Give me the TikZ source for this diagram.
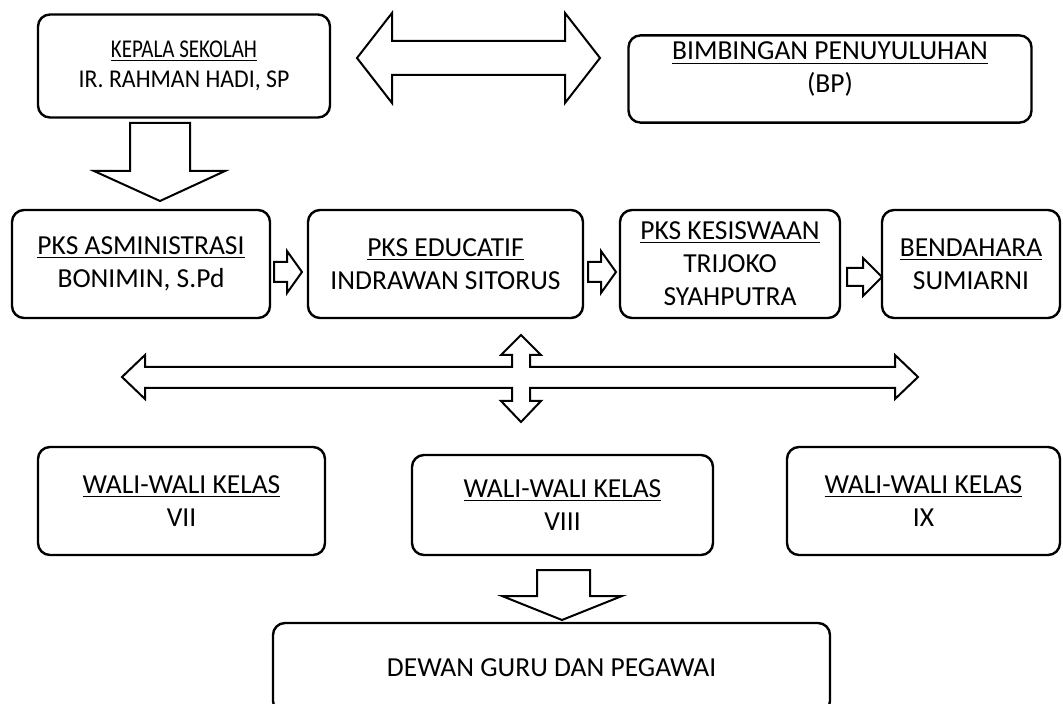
\documentclass[tikz,border=0pt]{standalone}
\usepackage{fontspec}
\usepackage{graphicx}
\setmainfont{Carlito}
\tikzset{
    box/.style={draw, rounded corners=6pt, line width=1.2pt, align=center,
        font=\fontsize{13.75}{16.5}\selectfont},
    blockarrow/.style={draw, line width=1pt, line join=miter, fill=white},
}
\begin{document}
\begin{tikzpicture}[x=0.5pt,y=-0.5pt]
    \useasboundingbox (0,0) rectangle (1063,704);
    %top row
    \node[box, minimum width=146pt, minimum height=51.5pt,
        font=\fontsize{12.8}{15}\selectfont] (kepala) at (184,66)
        {\scalebox{0.82}[1]{\underline{KEPALA SEKOLAH}}\\
         \scalebox{0.93}[1]{IR. RAHMAN HADI, SP}};
    \node[box, minimum width=201.5pt, minimum height=39pt] (bp) at (830,79)
        {\underline{BIMBINGAN PENUYULUHAN}\\(BP)\\[-5pt]\mbox{}};
    %middle row
    \node[box, minimum width=129pt, minimum height=54pt] (adm) at (141,264)
        {\underline{PKS ASMINISTRASI}\\BONIMIN, S.Pd};
    \node[box, minimum width=137.5pt, minimum height=54pt] (edu) at (445.5,264)
        {\underline{PKS EDUCATIF}\\INDRAWAN SITORUS};
    \node[box, minimum width=110pt, minimum height=54pt] (kes) at (730,264)
        {\underline{PKS KESISWAAN}\\TRIJOKO\\SYAHPUTRA};
    \node[box, minimum width=89pt, minimum height=54pt] (bend) at (971,264)
        {\underline{BENDAHARA}\\SUMIARNI};
    %wali kelas
    \node[box, minimum width=143.5pt, minimum height=54pt] (vii) at (181.5,501)
        {\underline{WALI-WALI KELAS}\\VII};
    \node[box, minimum width=150.5pt, minimum height=50pt] (viii) at (562.5,505)
        {\underline{WALI-WALI KELAS}\\VIII};
    \node[box, minimum width=136.5pt, minimum height=54pt] (ix) at (923.5,501)
        {\underline{WALI-WALI KELAS}\\IX};
    \node[box, minimum width=278.5pt, minimum height=45pt] (dewan) at (551.5,668)
        {DEWAN GURU DAN PEGAWAI};
    %arrows
    \draw[blockarrow] (357,58) -- (392,13) -- (392,41) -- (565,41) -- (565,13)
        -- (600,58) -- (565,103) -- (565,75) -- (392,75) -- (392,103) -- cycle;
    \draw[blockarrow] (130,123) -- (190,123) -- (190,171) -- (225,171)
        -- (160,201) -- (94,171) -- (130,171) -- cycle;
    \draw[blockarrow] (274,262) -- (287,262) -- (287,251) -- (302,272)
        -- (287,293) -- (287,282) -- (274,282) -- cycle;
    \draw[blockarrow] (588,262) -- (601,262) -- (601,251) -- (616,272)
        -- (601,293) -- (601,282) -- (588,282) -- cycle;
    \draw[blockarrow] (847,268) -- (863,268) -- (863,258) -- (882,277)
        -- (863,296) -- (863,286) -- (847,286) -- cycle;
    %cross
    \draw[blockarrow] (122,377) -- (145,355) -- (145,367) -- (512,367)
        -- (512,355) -- (501,355) -- (521,335) -- (541,355) -- (530,355)
        -- (530,367) -- (895,367) -- (895,355) -- (918,377) -- (895,399)
        -- (895,388) -- (530,388) -- (530,401) -- (541,401) -- (521,422)
        -- (501,401) -- (512,401) -- (512,388) -- (145,388) -- (145,399) -- cycle;
    \draw[blockarrow] (537,570) -- (590,570) -- (590,596) -- (622,596)
        -- (562,620) -- (502,596) -- (537,596) -- cycle;
\end{tikzpicture}
\end{document}
